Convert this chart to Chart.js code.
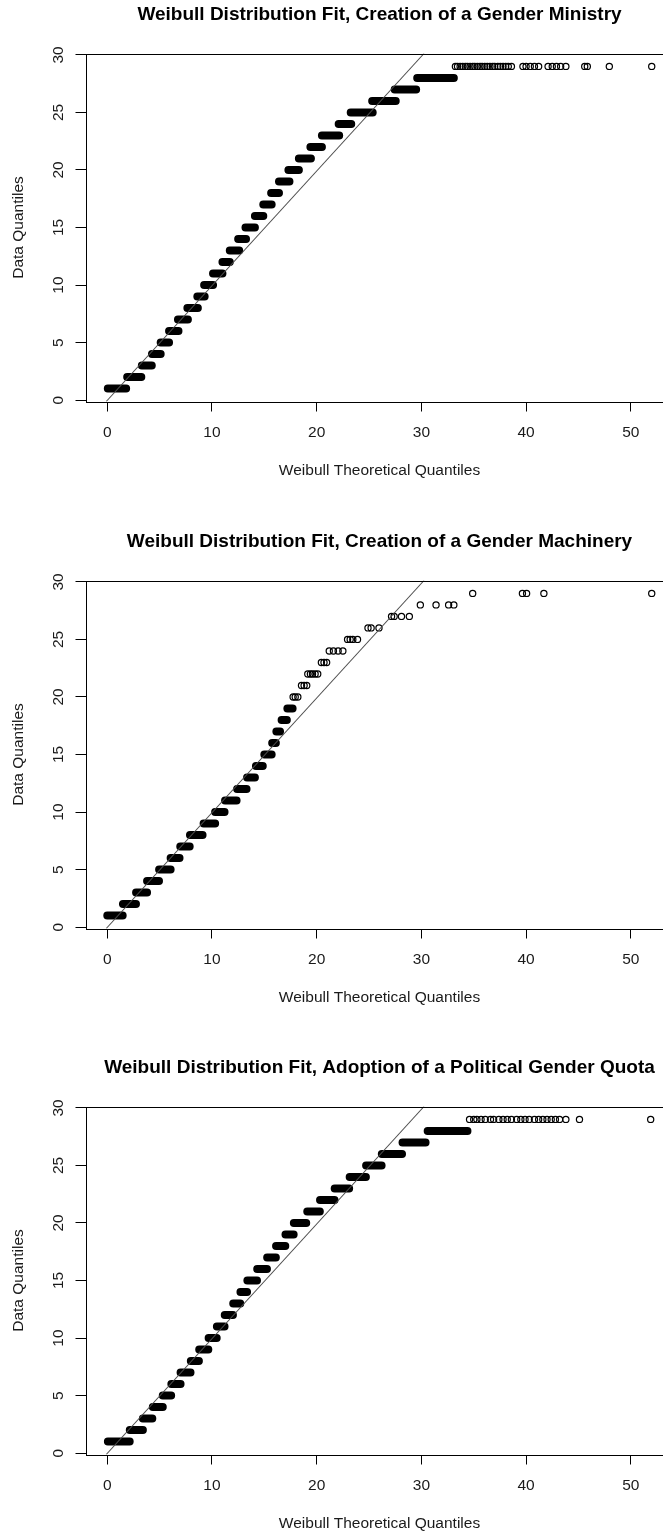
<!DOCTYPE html>
<html>
<head>
<meta charset="utf-8">
<script src="https://cdn.jsdelivr.net/npm/chart.js@4.4.1/dist/chart.umd.min.js"></script>
<style>
  html, body { margin: 0; padding: 0; background: #fff; overflow: hidden; width: 663px; height: 1535px; }
  .panel { position: absolute; left: 0; width: 663px; height: 527px; overflow: hidden; }
</style>
</head>
<body>
<div class="panel" style="top:0"><canvas id="c1" width="680" height="527"></canvas></div>
<div class="panel" style="top:527px"><canvas id="c2" width="680" height="527"></canvas></div>
<div class="panel" style="top:1053px;height:482px"><canvas id="c3" width="680" height="527"></canvas></div>
<script>
var xTicks = [0, 10, 20, 30, 40, 50];
var yTicks = [0, 5, 10, 15, 20, 25, 30];
var fitX = [-0.1, 30.25];
var fitY = [-0.12, 30.12];

// Creation of a Gender Ministry: runs of tied points per level, then the spread at 29
var ministryLevels = [1, 2, 3, 4, 5, 6, 7, 8, 9, 10, 11, 12, 13, 14, 15, 16, 17, 18, 19, 20, 21, 22, 23, 24, 25, 26, 27, 28];
var ministryStart = [0.05, 1.9, 3.3, 4.27, 5.1, 5.9, 6.75, 7.65, 8.6, 9.25, 10.1, 11.0, 11.7, 12.5, 13.2, 14.1, 14.9, 15.65, 16.4, 17.3, 18.3, 19.4, 20.5, 22.1, 23.25, 25.3, 27.45, 29.6];
var ministryEnd = [1.8, 3.25, 4.25, 5.1, 5.9, 6.8, 7.7, 8.65, 9.3, 10.1, 11.0, 11.7, 12.6, 13.25, 14.1, 14.9, 15.7, 16.4, 17.4, 18.3, 19.45, 20.5, 22.15, 23.3, 25.35, 27.55, 29.5, 33.1];
var ministryDotX = [33.25, 33.45, 33.7, 33.95, 34.2, 34.4, 34.65, 34.9, 35.1, 35.35, 35.6, 35.8, 36.05, 36.3, 36.55, 36.8, 37.0, 37.3, 37.55, 37.8, 38.05, 38.3, 38.6, 39.7, 40.0, 40.4, 40.8, 41.2, 42.1, 42.5, 42.9, 43.3, 43.8, 45.6, 45.85, 47.95, 52.0];
var ministryDotY = [29, 29, 29, 29, 29, 29, 29, 29, 29, 29, 29, 29, 29, 29, 29, 29, 29, 29, 29, 29, 29, 29, 29, 29, 29, 29, 29, 29, 29, 29, 29, 29, 29, 29, 29, 29, 29];

// Creation of a Gender Machinery
var machineryLevels = [1, 2, 3, 4, 5, 6, 7, 8, 9, 10, 11, 12, 13, 14, 15, 16, 17, 18, 19];
var machineryStart = [0.0, 1.5, 2.75, 3.8, 4.95, 6.05, 6.97, 7.9, 9.2, 10.3, 11.25, 12.4, 13.35, 14.2, 15.0, 15.75, 16.15, 16.65, 17.2];
var machineryEnd = [1.47, 2.74, 3.8, 4.94, 6.05, 6.9, 7.87, 9.1, 10.3, 11.2, 12.35, 13.3, 14.1, 14.85, 15.7, 16.1, 16.5, 17.15, 17.7];
var machineryDotX = [17.75, 17.95, 18.2, 18.55, 18.8, 19.05, 19.15, 19.4, 19.6, 19.85, 20.1, 20.45, 20.7, 20.95, 21.2, 21.6, 22.05, 22.5, 22.95, 23.2, 23.45, 23.9, 24.9, 25.2, 25.95, 27.15, 27.4, 28.1, 28.85, 29.9, 31.4, 32.6, 33.1, 34.9, 39.65, 40.05, 41.7, 52.0];
var machineryDotY = [20, 20, 20, 21, 21, 21, 22, 22, 22, 22, 22, 23, 23, 23, 24, 24, 24, 24, 25, 25, 25, 25, 26, 26, 26, 27, 27, 27, 27, 28, 28, 28, 28, 29, 29, 29, 29, 29];

// Adoption of a Political Gender Quota
var quotaLevels = [1, 2, 3, 4, 5, 6, 7, 8, 9, 10, 11, 12, 13, 14, 15, 16, 17, 18, 19, 20, 21, 22, 23, 24, 25, 26, 27, 28];
var quotaStart = [0.06, 2.15, 3.4, 4.35, 5.3, 6.12, 7.0, 7.98, 8.78, 9.68, 10.47, 11.22, 12.03, 12.72, 13.38, 14.32, 15.27, 16.12, 17.02, 17.82, 19.1, 20.32, 21.72, 23.15, 24.72, 26.22, 28.2, 30.6];
var quotaEnd = [2.14, 3.4, 4.3, 5.3, 6.1, 7.0, 7.95, 8.75, 9.65, 10.45, 11.2, 12.0, 12.7, 13.35, 14.3, 15.25, 16.1, 17.0, 17.8, 19.0, 20.3, 21.7, 23.1, 24.7, 26.2, 28.15, 30.4, 34.4];
var quotaDotX = [34.6, 35.0, 35.3, 35.7, 36.1, 36.6, 36.9, 37.4, 37.8, 38.2, 38.6, 39.1, 39.5, 39.9, 40.3, 40.8, 41.2, 41.6, 42.0, 42.4, 42.8, 43.2, 43.8, 45.1, 51.9];
var quotaDotY = [29, 29, 29, 29, 29, 29, 29, 29, 29, 29, 29, 29, 29, 29, 29, 29, 29, 29, 29, 29, 29, 29, 29, 29, 29];

var FONT = 'Liberation Sans';

// R style full frame round the plot region
var boxPlugin = {
  id: 'box',
  afterDraw: function (chart) {
    var a = chart.chartArea;
    var ctx = chart.ctx;
    ctx.save();
    ctx.strokeStyle = '#000';
    ctx.lineWidth = 1;
    ctx.strokeRect(Math.round(a.left) + 0.5, Math.round(a.top) + 0.5,
      Math.round(a.right - a.left), Math.round(a.bottom - a.top));
    ctx.restore();
  }
};

function qqChart(id, title, levels, starts, ends, dotX, dotY) {
  var runs = [];
  for (var i = 0; i < levels.length; i++) {
    runs.push({ x: starts[i], y: levels[i] });
    runs.push({ x: ends[i], y: levels[i] });
    runs.push({ x: ends[i], y: null });
  }
  var dots = dotX.map(function (v, i) { return { x: v, y: dotY[i] }; });
  var fit = fitX.map(function (v, i) { return { x: v, y: fitY[i] }; });

  return new Chart(id, {
    type: 'scatter',
    data: {
      datasets: [
        {
          type: 'line',
          data: fit,
          borderColor: '#4d4d4d',
          borderWidth: 1.1,
          pointRadius: 0,
        },
        {
          type: 'line',
          data: runs,
          borderColor: '#000',
          borderWidth: 8,
          borderCapStyle: 'round',
          pointRadius: 0,
          spanGaps: false,
        },
        {
          data: dots,
          pointRadius: 3.1,
          borderWidth: 1.2,
          borderColor: '#000',
          backgroundColor: 'rgba(0,0,0,0)',
        },
      ],
    },
    options: {
      responsive: false,
      animation: false,
      devicePixelRatio: 1,
      layout: { padding: { right: 6.5 } },
      plugins: {
        legend: { display: false },
        tooltip: { enabled: false },
        title: {
          display: true,
          text: title,
          fullSize: false,
          color: '#000',
          font: { family: FONT, size: 19, weight: 'bold' },
          padding: { top: 3.6, bottom: 27.1 },
        },
      },
      scales: {
        x: {
          type: 'linear',
          min: -2.08,
          max: 54.08,
          afterBuildTicks: function (s) { s.ticks = xTicks.map(function (v) { return { value: v }; }); },
          afterFit: function (s) { s.height = 125.5; },
          border: { display: false },
          grid: { drawOnChartArea: false, drawTicks: true, tickLength: 10, color: '#000', lineWidth: 1 },
          ticks: { color: '#1a1a1a', padding: 12, maxRotation: 0, autoSkip: false, font: { family: FONT, size: 15.5 } },
          title: {
            display: true,
            text: 'Weibull Theoretical Quantiles',
            color: '#1a1a1a',
            font: { family: FONT, size: 15.5 },
            padding: { top: 0, bottom: 47.2 },
          },
        },
        y: {
          type: 'linear',
          min: -0.12,
          max: 30.12,
          afterBuildTicks: function (s) { s.ticks = yTicks.map(function (v) { return { value: v }; }); },
          afterFit: function (s) { s.width = 85.5; },
          border: { display: false },
          grid: { drawOnChartArea: false, drawTicks: true, tickLength: 10, color: '#000', lineWidth: 1 },
          ticks: {
            color: '#1a1a1a', padding: 8, minRotation: 90, maxRotation: 90, crossAlign: 'center', autoSkip: false,
            font: { family: FONT, size: 15.5 },
          },
          title: {
            display: true,
            text: 'Data Quantiles',
            color: '#1a1a1a',
            font: { family: FONT, size: 15.5 },
            padding: { top: 9, bottom: 0 },
          },
        },
      },
    },
    plugins: [boxPlugin],
  });
}

qqChart('c1', 'Weibull Distribution Fit, Creation of a Gender Ministry', ministryLevels, ministryStart, ministryEnd, ministryDotX, ministryDotY);
qqChart('c2', 'Weibull Distribution Fit, Creation of a Gender Machinery', machineryLevels, machineryStart, machineryEnd, machineryDotX, machineryDotY);
qqChart('c3', 'Weibull Distribution Fit, Adoption of a Political Gender Quota', quotaLevels, quotaStart, quotaEnd, quotaDotX, quotaDotY);
</script>
</body>
</html>
